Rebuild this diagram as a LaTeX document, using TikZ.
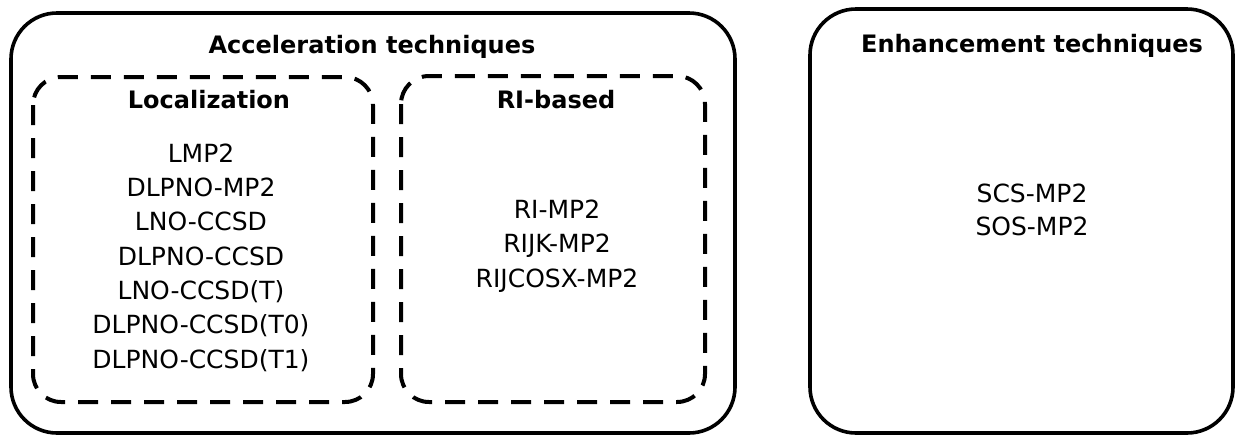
\documentclass[tikz,border=0pt]{standalone}
\usepackage{fontspec}
\setmainfont{DejaVu Sans}
\begin{document}
\begin{tikzpicture}[x=1pt,y=-1pt,
  outerbox/.style={draw=black,line width=3.6pt,rounded corners=46pt},
  dashbox/.style={draw=black,line width=4pt,rounded corners=28pt,dash pattern=on 20pt off 13pt},
  headtxt/.style={font=\fontsize{24}{28}\selectfont\bfseries,anchor=base,inner sep=0pt},
  itemtxt/.style={font=\fontsize{25}{30}\selectfont,anchor=base,inner sep=0pt}]
\useasboundingbox (0,0) rectangle (1236,437);
% outer boxes
\draw[outerbox] (11,13) rectangle (735,433);
\draw[outerbox] (810,9) rectangle (1233,433);
% dashed boxes
\draw[dashbox] (33,77) rectangle (373,402);
\draw[dashbox] (401,76) rectangle (705,402);
% headings
\node[headtxt] (acc) at (372,53) {Acceleration techniques};
\node[headtxt] (enh) at (1032,52) {Enhancement techniques};
\node[headtxt] (loc) at (209,108) {Localization};
\node[headtxt] (ri) at (556,108) {RI-based};
% localization list
\node[itemtxt] (l1) at (201,162) {LMP2};
\node[itemtxt] (l2) at (201,196.3) {DLPNO-MP2};
\node[itemtxt] (l3) at (201,230.7) {LNO-CCSD};
\node[itemtxt] (l4) at (201,265) {DLPNO-CCSD};
\node[itemtxt] (l5) at (201,299.3) {LNO-CCSD(T)};
\node[itemtxt] (l6) at (201,333.7) {DLPNO-CCSD(T0)};
\node[itemtxt] (l7) at (201,368) {DLPNO-CCSD(T1)};
% RI list
\node[itemtxt] (r1) at (557,218) {RI-MP2};
\node[itemtxt] (r2) at (557,252.5) {RIJK-MP2};
\node[itemtxt] (r3) at (557,287) {RIJCOSX-MP2};
% enhancement list
\node[itemtxt] (e1) at (1032,202) {SCS-MP2};
\node[itemtxt] (e2) at (1032,235) {SOS-MP2};
\end{tikzpicture}
\end{document}
